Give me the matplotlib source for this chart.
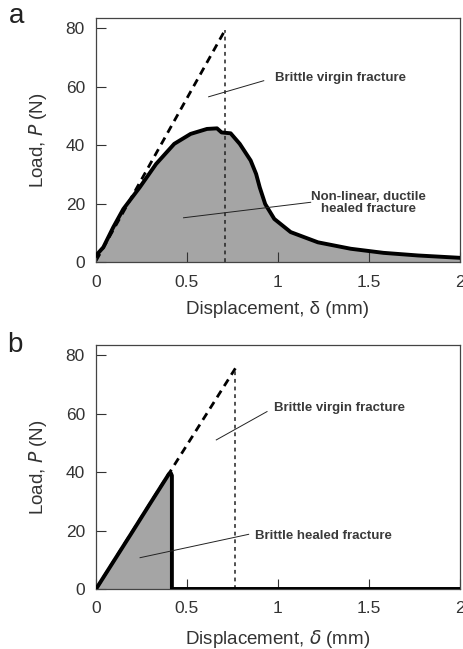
import matplotlib
matplotlib.use("Agg")
import matplotlib.pyplot as plt
import numpy as np

plt.rcParams['font.family'] = ['Liberation Sans', 'DejaVu Sans']

# Panel a data
a_healed_x = [0.0, 0.04, 0.095, 0.15, 0.24, 0.33, 0.43, 0.52, 0.61, 0.665, 0.69, 0.74,
              0.79, 0.85, 0.88, 0.90, 0.93, 0.98, 1.07, 1.22, 1.40, 1.58, 1.77, 2.0]
a_healed_y = [2.3, 5.1, 12.0, 18.2, 25.6, 33.6, 40.5, 43.9, 45.6, 45.8, 44.4, 44.1,
              40.5, 34.8, 30.2, 25.6, 19.9, 14.8, 10.3, 6.8, 4.6, 3.2, 2.3, 1.5]
a_virgin_x = [0.0, 0.71]
a_virgin_y = [0.5, 79.5]

# Panel b data
b_healed_x = [0.0, 0.10, 0.20, 0.30, 0.40, 0.41, 0.417, 0.417, 2.0]
b_healed_y = [0.0, 9.8, 19.6, 29.5, 39.3, 39.8, 38.8, 0.0, 0.0]
b_virgin_x = [0.0, 0.766]
b_virgin_y = [0.0, 75.5]

xticks = [0, 0.5, 1, 1.5, 2]
xticklabels = ['0', '0.5', '1', '1.5', '2']
yticks = [0, 20, 40, 60, 80]

fig = plt.figure(figsize=(4.64, 6.49), dpi=100)
ax_a = fig.add_axes([0.207, 0.596, 0.784, 0.376])
ax_b = fig.add_axes([0.207, 0.0925, 0.784, 0.376])

fill_col = '#a5a5a5'
tick_col = '#333333'
ann_col = '#3a3a3a'

def style(ax, xlabel):
    ax.set_xlim(0, 2)
    ax.set_ylim(0, 83.5)
    ax.set_xticks(xticks)
    ax.set_xticklabels(xticklabels)
    ax.set_yticks(yticks)
    ax.tick_params(axis='both', direction='in', length=7, width=0.8, labelsize=12.5,
                   colors=tick_col, top=False, right=False)
    ax.tick_params(axis='x', pad=9)
    ax.tick_params(axis='y', pad=8)
    for s in ax.spines.values():
        s.set_color('#444444')
        s.set_linewidth(0.9)
    ax.set_xlabel(xlabel, fontsize=13.5, color=tick_col, labelpad=8)
    ax.set_ylabel('Load, $P$ (N)', fontsize=13.5, color=tick_col, labelpad=12)

# Panel a
ax = ax_a
ax.fill_between(a_healed_x, 0, a_healed_y, color=fill_col, zorder=1)
ax.plot(a_virgin_x, a_virgin_y, color='black', lw=2.0, ls=(0, (2.8, 2.0)), zorder=2)
ax.plot([a_virgin_x[1], a_virgin_x[1]], [0, a_virgin_y[1]], color='#222222', lw=1.1,
        ls=(0, (2.5, 2.5)), zorder=2)
ax.plot(a_healed_x, a_healed_y, color='black', lw=2.8, zorder=3, solid_joinstyle='round')
ax.plot([0.619, 0.922], [56.6, 62.1], color='#222222', lw=0.7, zorder=4)
ax.text(0.985, 63, 'Brittle virgin fracture', fontsize=9.5, fontweight='bold',
        va='center', ha='left', color=ann_col)
ax.plot([0.481, 1.18], [15.2, 20.5], color='#222222', lw=0.7, zorder=4)
ax.text(1.5, 20.3, 'Non-linear, ductile\nhealed fracture', fontsize=9.5, fontweight='bold',
        va='center', ha='center', color=ann_col, linespacing=0.95)
style(ax, 'Displacement, δ (mm)')

# Panel b
ax = ax_b
ax.fill_between(b_healed_x, 0, b_healed_y, color=fill_col, zorder=1)
ax.plot(b_virgin_x, b_virgin_y, color='black', lw=2.0, ls=(0, (2.8, 2.0)), zorder=2)
ax.plot([b_virgin_x[1], b_virgin_x[1]], [0, b_virgin_y[1]], color='#222222', lw=1.1,
        ls=(0, (2.5, 2.5)), zorder=2)
ax.plot(b_healed_x, b_healed_y, color='black', lw=2.8, zorder=3)
ax.plot([0.661, 0.94], [51.0, 60.7], color='#222222', lw=0.7, zorder=4)
ax.text(0.98, 62, 'Brittle virgin fracture', fontsize=9.5, fontweight='bold',
        va='center', ha='left', color=ann_col)
ax.plot([0.242, 0.839], [10.7, 18.7], color='#222222', lw=0.7, zorder=4)
ax.text(0.876, 18.1, 'Brittle healed fracture', fontsize=9.5, fontweight='bold',
        va='center', ha='left', color=ann_col)
style(ax, 'Displacement, $\\delta$ (mm)')

fig.text(17 / 464, 1 - 16 / 649, 'a', fontsize=20, ha='center', va='center', color='#222222')
fig.text(15 / 464, 1 - 345 / 649, 'b', fontsize=20, ha='center', va='center', color='#222222')

fig.savefig('out.png', dpi=100)
